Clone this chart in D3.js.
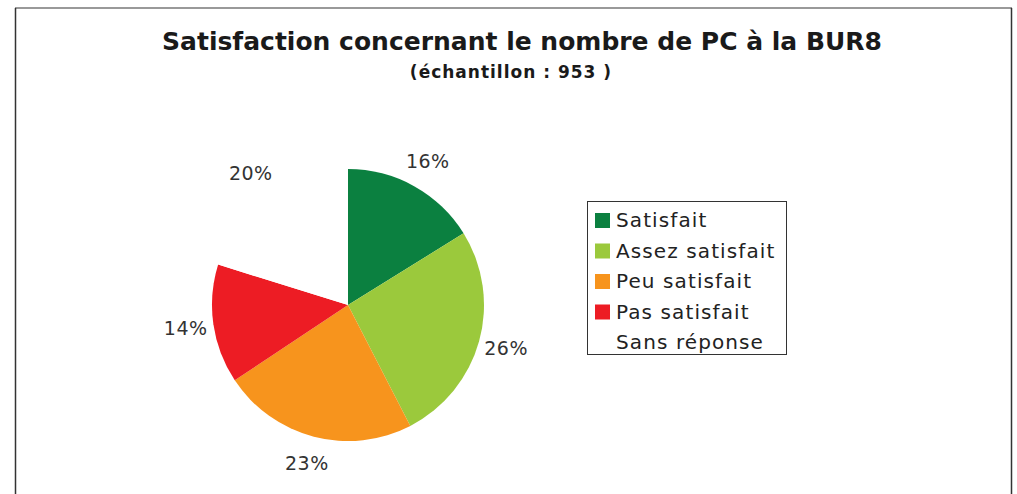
<!DOCTYPE html>
<html>
<head>
<meta charset="utf-8">
<script src="https://cdn.jsdelivr.net/npm/d3@7"></script>
<style>
  body { margin: 0; background: #fff; }
  text { font-family: "DejaVu Sans", Verdana, sans-serif; }
</style>
</head>
<body>
<div id="chart"></div>
<script>
// data
var categories = ["Satisfait", "Assez satisfait", "Peu satisfait", "Pas satisfait", "Sans réponse"];
var values = [16, 26, 23, 14, 20];
var labels = ["16%", "26%", "23%", "14%", "20%"];
var colors = ["#0b8040", "#9bc93c", "#f7941d", "#ed1c24", "#ffffff"];

var svgWidth = 1017;
var svgHeight = 494;

var svg = d3.select("#chart")
  .append("svg")
  .attr("width", svgWidth)
  .attr("height", svgHeight);

// frame
svg.append("line").attr("x1", 15).attr("x2", 1012).attr("y1", 8).attr("y2", 8)
  .attr("stroke", "#999").attr("stroke-width", 2);
svg.append("line").attr("x1", 15.5).attr("x2", 15.5).attr("y1", 8).attr("y2", 494)
  .attr("stroke", "#333").attr("stroke-width", 1.5);
svg.append("line").attr("x1", 1011.5).attr("x2", 1011.5).attr("y1", 8).attr("y2", 494)
  .attr("stroke", "#333").attr("stroke-width", 1.5);

// titles
svg.append("text")
  .attr("x", 522).attr("y", 50)
  .attr("text-anchor", "middle")
  .attr("font-size", 25).attr("font-weight", "bold")
  .attr("fill", "#1a1a1a")
  .text("Satisfaction concernant le nombre de PC à la BUR8");

svg.append("text")
  .attr("x", 511).attr("y", 78)
  .attr("text-anchor", "middle")
  .attr("font-size", 17).attr("font-weight", "bold")
  .attr("letter-spacing", 1)
  .attr("fill", "#1a1a1a")
  .text("(échantillon : 953 )");

// pie
var cx = 348, cy = 305, radius = 136;
var pieGroup = svg.append("g").attr("transform", `translate(${cx}, ${cy})`);

var pie = d3.pie().sort(null).value(d => d);
var arcs = pie(values);
var arc = d3.arc().innerRadius(0).outerRadius(radius);

pieGroup.selectAll("path")
  .data(arcs)
  .enter()
  .append("path")
  .attr("d", arc)
  .attr("fill", (d, i) => colors[i]);

// percentage labels outside
var labelArc = d3.arc().innerRadius(radius + 28).outerRadius(radius + 28);
pieGroup.selectAll("text.pct")
  .data(arcs)
  .enter()
  .append("text")
  .attr("class", "pct")
  .attr("transform", d => `translate(${labelArc.centroid(d)})`)
  .attr("text-anchor", "middle")
  .attr("dy", "0.35em")
  .attr("font-size", 19)
  .attr("letter-spacing", 0.5)
  .attr("fill", "#333")
  .text((d, i) => labels[i]);

// legend
var legend = svg.append("g").attr("transform", "translate(587, 201)");
legend.append("rect")
  .attr("x", 0.5).attr("y", 0.5)
  .attr("width", 199).attr("height", 153)
  .attr("fill", "#fff").attr("stroke", "#333");

var rows = legend.selectAll("g.row")
  .data(categories)
  .enter()
  .append("g")
  .attr("class", "row")
  .attr("transform", (d, i) => `translate(0, ${19 + i * 30.5})`);

rows.append("rect")
  .attr("x", 8).attr("y", -7)
  .attr("width", 15).attr("height", 15)
  .attr("fill", (d, i) => colors[i]);

rows.append("text")
  .attr("x", 29).attr("y", 0)
  .attr("dy", "0.35em")
  .attr("font-size", 20)
  .attr("letter-spacing", 1.1)
  .attr("fill", "#222")
  .text(d => d);
</script>
</body>
</html>
